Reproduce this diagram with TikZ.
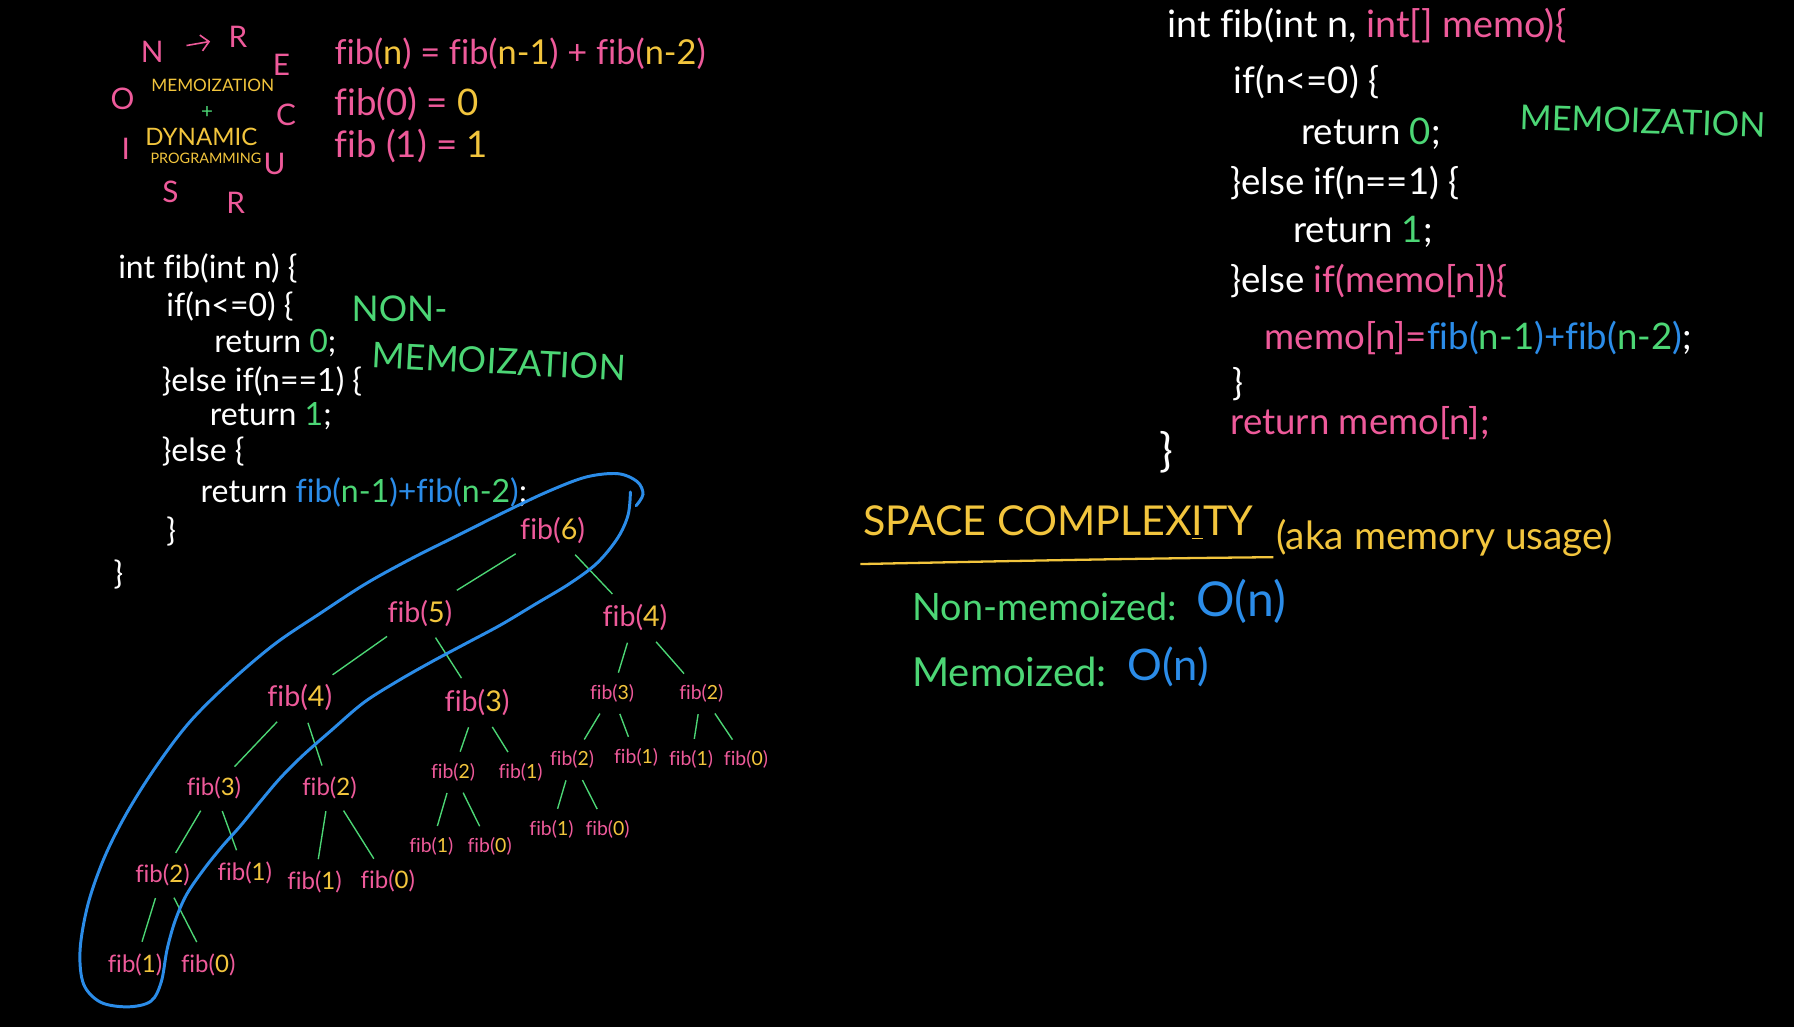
\documentclass[tikz,border=0pt]{standalone}
\usepackage{fontspec}
\setmainfont{Lato}[Ligatures={NoCommon}]
\usetikzlibrary{arrows.meta}
\definecolor{pk}{HTML}{EE5A9A}
\definecolor{yl}{HTML}{F2C53D}
\definecolor{gr}{HTML}{4CD675}
\definecolor{bl}{HTML}{2B8CE8}
\newcommand\fb[1]{\textcolor{pk}{fib(}\textcolor{yl}{#1}\textcolor{pk}{)}}
\newcommand\fsz[1]{\fontsize{#1}{#1}\selectfont}
\tikzset{
  code/.style={anchor=west, inner sep=0pt, text=white, font=\fsz{14}},
  rcode/.style={code, font=\fsz{16}},
  acro/.style={inner sep=0pt, text=pk, font=\fsz{13}},
  smallcap/.style={inner sep=0pt, text=yl},
  formula/.style={anchor=west, inner sep=0pt, text=pk, font=\fsz{16}},
  greenlbl/.style={anchor=west, inner sep=0pt, text=gr, font=\fsz{15.5}},
  fbig/.style={inner sep=3pt, font=\fsz{12.5}},
  fmid/.style={inner sep=3pt, font=\fsz{10.5}},
  fsmall/.style={inner sep=3pt, font=\fsz{8.5}},
  tedge/.style={draw=gr, line width=0.6pt, shorten <=2pt, shorten >=2pt},
}
\begin{document}
\begin{tikzpicture}[x=0.5pt, y=-0.5pt]
\fill[black] (0,0) rectangle (1568,898);
\useasboundingbox (0,0) rectangle (1568,898);

% acrostic
\node[acro] (aN) at (133,45) {N};
\node[acro] (aR1) at (208,32) {R};
\node[acro] (aE) at (246,57) {E};
\node[acro] (aO) at (107,86) {O};
\node[acro] (aC) at (250,100) {C};
\node[acro] (aI) at (110,130) {I};
\node[acro] (aU) at (240,143) {U};
\node[acro] (aS) at (149,168) {S};
\node[acro] (aR2) at (206,177) {R};
\draw[pk, line width=0.7pt, -{Straight Barb[length=3.5pt]}, shorten <=10pt, shorten >=8pt] (aN) -- (aR1);
\node[smallcap, font=\fsz{7.5}] (mem) at (186,75) {MEMOIZATION};
\node[inner sep=0pt, text=gr, font=\fsz{9}] (plus) at (181,98) {+};
\node[smallcap, font=\fsz{10.5}] (dyn) at (176,120) {DYNAMIC};
\node[smallcap, font=\fsz{6.3}] (prog) at (180,138) {PROGRAMMING};

% formulas
\node[formula, font=\fsz{15}] (fa) at (292,47) {fib(\textcolor{yl}{n}) = fib(\textcolor{yl}{n-1}) + fib(\textcolor{yl}{n-2})};
\node[formula] (fb0) at (292,91) {fib(0) = \textcolor{yl}{0}};
\node[formula] (fb1) at (292,128) {fib (1) = \textcolor{yl}{1}};

% left code
\node[code] (l1) at (103,235) {int fib(int n) \{};
\node[code] (l2) at (145,268) {if(n<=0) \{};
\node[code] (l3) at (187,300) {return \textcolor{gr}{0};};
\node[code] (l4) at (141,333) {\}else if(n==1) \{};
\node[code] (l5) at (183,364) {return \textcolor{gr}{1};};
\node[code] (l6) at (141,395) {\}else \{};
\node[code] (l7) at (175,430) {return \textcolor{bl}{fib(}\textcolor{gr}{n-1}\textcolor{bl}{)+fib(}\textcolor{gr}{n-2}\textcolor{bl}{)};};
\node[code] (l8) at (145,465) {\}};
\node[code] (l9) at (99,502) {\}};
\node[greenlbl] (nm1) at (307,270) {NON-};
\node[greenlbl, rotate=-3] (nm2) at (325,310) {MEMOIZATION};

% right code
\node[rcode, font=\fsz{16.5}] (r1) at (1020,22) {int fib(int n, \textcolor{pk}{int[] memo)\{}};
\node[rcode] (r2) at (1078,72) {if(n<=0) \{};
\node[rcode] (r3) at (1137,117) {return \textcolor{gr}{0};};
\node[rcode] (r4) at (1075,160) {\}else if(n==1) \{};
\node[rcode] (r5) at (1130,203) {return \textcolor{gr}{1};};
\node[rcode] (r6) at (1075,246) {\}else \textcolor{pk}{if(memo[n])\{}};
\node[rcode] (r7) at (1105,295) {\textcolor{pk}{memo[n]=}\textcolor{bl}{fib(}\textcolor{gr}{n-1}\textcolor{bl}{)+fib(}\textcolor{gr}{n-2}\textcolor{bl}{)};};
\node[rcode] (r8) at (1077,336) {\}};
\node[rcode, text=pk] (r9) at (1075,370) {return memo[n];};
\node[rcode, font=\fsz{20}] (r10) at (1013,395) {\}};
\node[greenlbl, font=\fsz{15}, rotate=-2] (mz) at (1328,102) {MEMOIZATION};

% space complexity
\node[anchor=west, inner sep=0pt, text=yl, font=\fsz{18}] (sc) at (754,457) {SPACE COMPLEX\underline{I}TY};
\node[anchor=west, inner sep=0pt, text=yl, font=\fsz{17}] (aka) at (1115,470) {(aka memory usage)};
\draw[yl, line width=1pt] (752,493) .. controls (900,490) and (1000,488) .. (1113,487);
\node[anchor=west, inner sep=0pt, text=gr, font=\fsz{16.5}] (nmz) at (797,530) {Non-memoized:};
\node[anchor=west, inner sep=0pt, text=bl, font=\fsz{21}] (nmo) at (1045,526) {O(n)};
\node[anchor=west, inner sep=0pt, text=gr, font=\fsz{17.5}] (mzd) at (797,587) {Memoized:};
\node[anchor=west, inner sep=0pt, text=bl, font=\fsz{19}] (mzo) at (985,583) {O(n)};

% tree
\node[fbig] (t6) at (483,464) {\fb{6}};
\node[fbig] (t5) at (367,536) {\fb{5}};
\node[fbig] (t4r) at (555,540) {\fb{4}};
\node[fbig] (t4l) at (262,610) {\fb{4}};
\node[fbig] (t3m) at (417,614) {\fb{3}};
\node[fsmall] (t3r) at (535,606) {\fb{3}};
\node[fsmall] (t2r) at (613,606) {\fb{2}};
\node[fmid] (t3l) at (187,689) {\fb{3}};
\node[fmid] (t2lm) at (288,689) {\fb{2}};
\node[fsmall] (t2m) at (396,675) {\fb{2}};
\node[fsmall] (t1m) at (455,675) {\fb{1}};
\node[fsmall] (t2rr) at (500,664) {\fb{2}};
\node[fsmall] (t1rr) at (556,662) {\fb{1}};
\node[fsmall] (t1r2) at (604,664) {\fb{1}};
\node[fsmall] (t0r2) at (652,664) {\fb{0}};
\node[fmid] (t2ll) at (142,765) {\fb{2}};
\node[fmid] (t1ll) at (214,763) {\fb{1}};
\node[fmid] (t1lm) at (275,771) {\fb{1}};
\node[fmid] (t0lm) at (339,770) {\fb{0}};
\node[fsmall] (t1mm) at (377,740) {\fb{1}};
\node[fsmall] (t0mm) at (428,740) {\fb{0}};
\node[fsmall] (t1rrr) at (482,725) {\fb{1}};
\node[fsmall] (t0rrr) at (531,725) {\fb{0}};
\node[fmid] (t1b) at (118,843) {\fb{1}};
\node[fmid] (t0b) at (182,843) {\fb{0}};

\foreach \a/\b in {t6/t5, t6/t4r, t5/t4l, t5/t3m, t4r/t3r, t4r/t2r, t4l/t3l, t4l/t2lm,
  t3m/t2m, t3m/t1m, t3r/t2rr, t3r/t1rr, t2r/t1r2, t2r/t0r2, t3l/t2ll, t3l/t1ll,
  t2lm/t1lm, t2lm/t0lm, t2m/t1mm, t2m/t0mm, t2rr/t1rrr, t2rr/t0rrr, t2ll/t1b, t2ll/t0b}
  \draw[tedge] (\a) -- (\b);

% blue loop
\draw[bl, line width=1.3pt, line cap=round] plot[smooth, tension=0.55] coordinates {
 (551,430) (549,450) (540,470) (522,492) (498,510) (468,528) (438,546) (408,562)
 (378,578) (348,595) (318,614) (290,638) (265,660) (245,680) (228,700) (210,722)
 (194,740) (178,760) (163,782) (153,805) (146,830) (141,858) (132,875) (112,880)
 (88,876) (73,860) (70,830) (77,790) (91,750) (110,712) (135,672) (165,632)
 (200,597) (240,563) (280,536) (320,510) (360,488) (400,468) (440,448) (478,430)
 (512,417) (540,414) (557,421) (562,432) (556,442)};
\end{tikzpicture}
\end{document}
